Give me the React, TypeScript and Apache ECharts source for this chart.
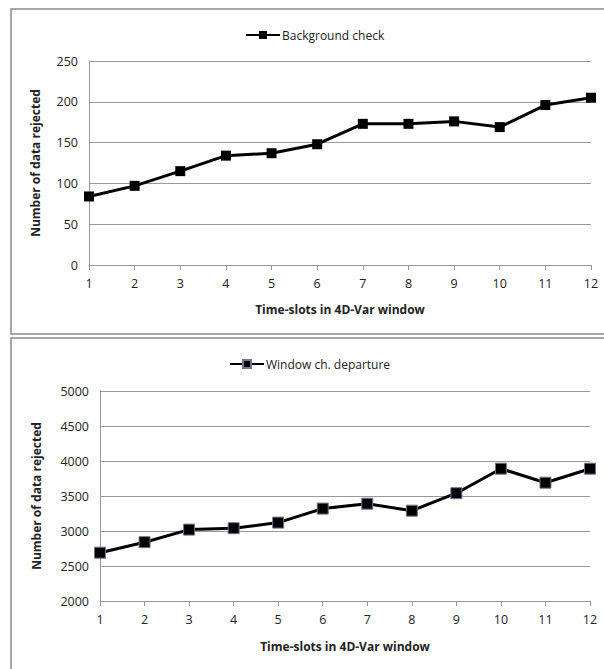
import React, { useEffect, useRef } from "react";
import * as echarts from "echarts";

const timeSlots = ["1", "2", "3", "4", "5", "6", "7", "8", "9", "10", "11", "12"];
const backgroundCheck = [84, 97, 115, 134, 137, 148, 173, 173, 176, 169, 196, 205];
const windowDeparture = [2690, 2840, 3020, 3040, 3120, 3320, 3390, 3290, 3540, 3890, 3690, 3890];
const seriesNames = ["Background check", "Window ch. departure"];
const xAxisTitle = "Time-slots in 4D-Var window";
const yAxisTitle = "Number of data rejected";

const FONT = "'Open Sans', 'Liberation Sans', sans-serif";

export default function App() {
  const ref = useRef<HTMLDivElement>(null);
  useEffect(() => {
    if (!ref.current) return;
    const chart = echarts.init(ref.current, null, { renderer: "svg" });
    const xAxisBase = (gridIndex: number, nameGap: number) => ({
      type: "category",
      gridIndex,
      data: timeSlots,
      boundaryGap: false,
      name: xAxisTitle,
      nameLocation: "middle",
      nameGap,
      nameTextStyle: { fontFamily: FONT, fontSize: 12, fontWeight: "bold", color: "#222" },
      axisLine: { lineStyle: { color: "#999", width: 1 } },
      axisTick: { show: true, length: 5, lineStyle: { color: "#999" } },
      axisLabel: { fontFamily: FONT, fontSize: 12.5, color: "#222", margin: 12 },
      splitLine: { show: false },
    });
    const yAxisBase = (gridIndex: number, min: number, max: number, interval: number, nameGap: number) => ({
      type: "value",
      gridIndex,
      min,
      max,
      interval,
      name: yAxisTitle,
      nameLocation: "middle",
      nameGap,
      nameRotate: 90,
      nameTextStyle: { fontFamily: FONT, fontSize: 12, fontWeight: "bold", color: "#222" },
      axisLine: { show: true, lineStyle: { color: "#999", width: 1 } },
      axisTick: { show: false },
      axisLabel: {
        fontFamily: FONT,
        fontSize: 12.5,
        color: "#222",
        margin: 11,
        formatter: (v: number) => String(v),
      },
      splitLine: { show: true, lineStyle: { color: "#999", width: 1 } },
    });
    chart.setOption({
      animation: false,
      backgroundColor: "#fff",
      graphic: [
        { type: "rect", shape: { x: 11, y: 9, width: 620, height: 325 }, style: { fill: "none", stroke: "#8a8a8a", lineWidth: 1.5 }, z: -1 },
        { type: "rect", shape: { x: 11, y: 338, width: 620, height: 360 }, style: { fill: "none", stroke: "#8a8a8a", lineWidth: 1.5 }, z: -1 },
      ],
      legend: [
        {
          data: [seriesNames[0]],
          left: 240,
          top: 24,
          itemWidth: 34,
          itemHeight: 10,
          textStyle: { fontFamily: FONT, fontSize: 12, color: "#222", padding: [0, 0, 0, -3] },
        },
        {
          data: [seriesNames[1]],
          left: 224,
          top: 353,
          itemWidth: 34,
          itemHeight: 10,
          textStyle: { fontFamily: FONT, fontSize: 12, color: "#222", padding: [0, 0, 0, -3] },
        },
      ],
      grid: [
        { left: 89, top: 61, width: 502, height: 204 },
        { left: 100, top: 391, width: 490, height: 210 },
      ],
      xAxis: [xAxisBase(0, 38), xAxisBase(1, 39)],
      yAxis: [yAxisBase(0, 0, 250, 50, 48), yAxisBase(1, 2000, 5000, 500, 58)],
      series: [
        {
          name: seriesNames[0],
          type: "line",
          xAxisIndex: 0,
          yAxisIndex: 0,
          data: backgroundCheck,
          symbol: "rect",
          symbolSize: 10,
          lineStyle: { color: "#000", width: 3 },
          itemStyle: { color: "#000" },
        },
        {
          name: seriesNames[1],
          type: "line",
          xAxisIndex: 1,
          yAxisIndex: 1,
          data: windowDeparture,
          symbol: "rect",
          symbolSize: 11,
          lineStyle: { color: "#000", width: 3 },
          itemStyle: { color: "#000", borderColor: "#7d6e94", borderWidth: 1 },
        },
      ],
    });
    return () => chart.dispose();
  }, []);
  return (
    <div
      ref={ref}
      style={{ position: "fixed", left: 0, top: 0, width: 604, height: 669, background: "#fff" }}
    />
  );
}
